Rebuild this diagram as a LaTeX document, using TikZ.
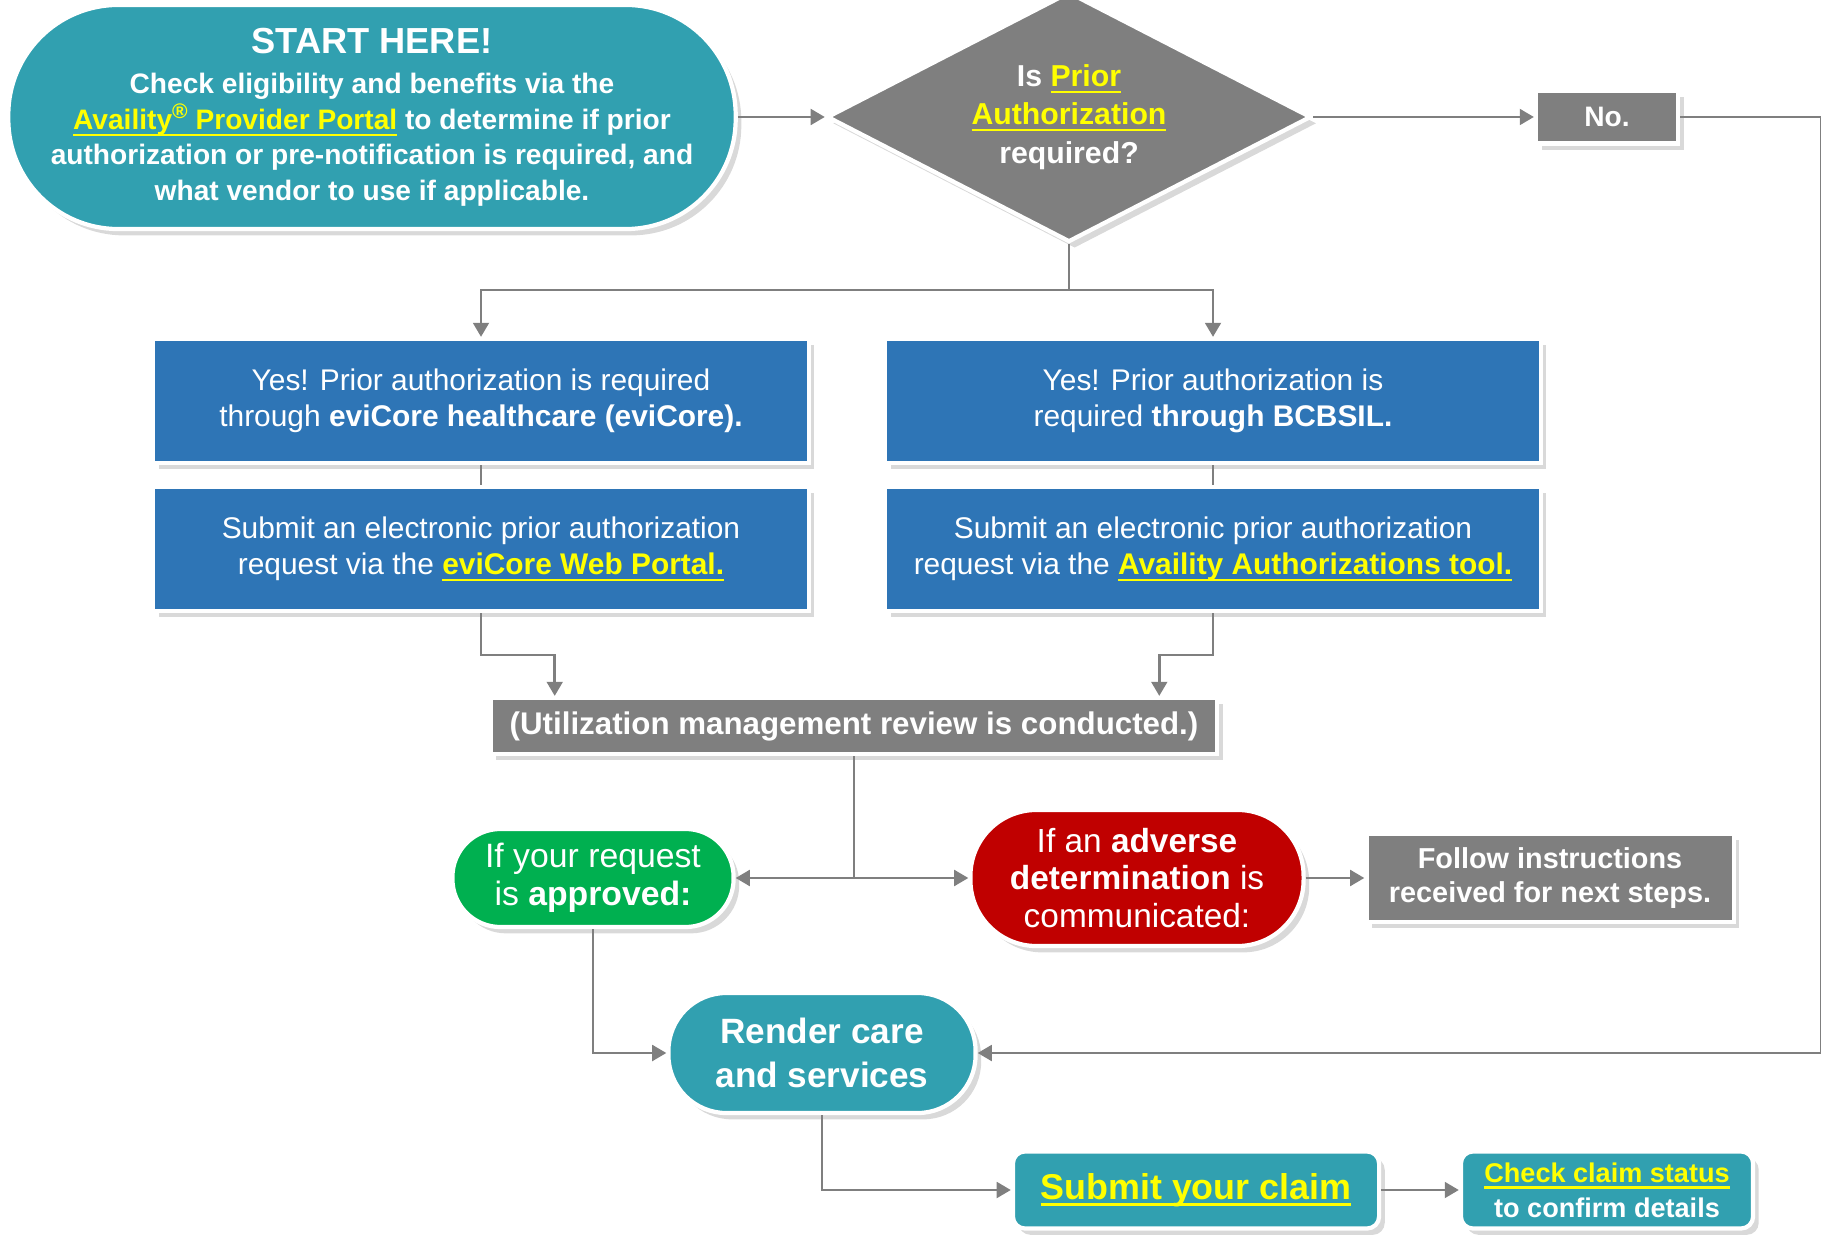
\documentclass[tikz,border=0pt]{standalone}
\usepackage{fontspec}
\setmainfont{Liberation Sans}
\usepackage{tikz}
\usetikzlibrary{positioning,shapes.geometric,arrows.meta,shadows}

\definecolor{tealfill}{HTML}{31A0B0}
\definecolor{bluefill}{HTML}{2E75B6}
\definecolor{grayfill}{HTML}{7F7F7F}
\definecolor{greenfill}{HTML}{00B050}
\definecolor{redfill}{HTML}{C00000}
\definecolor{linkyellow}{HTML}{FFFF00}
\definecolor{linegray}{HTML}{7F7F7F}

\newsavebox{\lnkbox}
\newcommand{\lnk}[1]{{\color{linkyellow}\sbox{\lnkbox}{#1}\rlap{\rule[-1.8pt]{\wd\lnkbox}{0.6pt}}\usebox{\lnkbox}}}

\tikzset{
  softshadow/.style={drop shadow={shadow xshift=1.6pt, shadow yshift=-1.8pt, opacity=0.3}},
  box/.style={rectangle, draw=white, line width=1.2pt, text=white, inner sep=0pt, align=center, softshadow},
  bluebox/.style={box, fill=bluefill, minimum width=6.55cm, minimum height=1.24cm,
    font=\fontsize{8.5}{10.3}\selectfont},
  graybox/.style={box, fill=grayfill, font=\bfseries\fontsize{8.9}{10.5}\selectfont},
  conn/.style={draw=linegray, line width=0.7pt},
  connarr/.style={conn, -{Triangle[width=4.5pt,length=4pt]}},
}

\begin{document}
\begin{tikzpicture}[x=0.01cm, y=-0.01cm]
	\useasboundingbox (0,0) rectangle (1821,1237);
	\clip (0,0) rectangle (1821,1237);

	% top row
	\node[box, fill=tealfill, minimum width=7.27cm, minimum height=2.24cm, rounded corners=1.1cm,
		font=\bfseries\fontsize{8}{10.1}\selectfont] (start) at (372,117)
		{{\fontsize{10.3}{12}\selectfont START HERE!}\\[1.5pt]
		 Check eligibility and benefits via the\\
		 \lnk{Availity{\fontsize{6}{6}\selectfont\raisebox{3pt}{\textregistered}} Provider Portal} to determine if prior\\
		 authorization or pre-notification is required, and\\
		 what vendor to use if applicable.};
	\node[diamond, aspect=1.93, draw=white, line width=1.2pt, fill=grayfill, text=white, inner sep=0pt,
		minimum width=4.84cm, minimum height=2.5cm, align=center,
		font=\bfseries\fontsize{8.6}{10.9}\selectfont, softshadow] (decide) at (1069,117)
		{Is \lnk{Prior}\\\lnk{Authorization}\\required?};
	\node[graybox, minimum width=1.42cm, minimum height=0.53cm, font=\bfseries\fontsize{8}{10}\selectfont] (no) at (1607,117) {No.};

	% two vendors
	\node[bluebox] (yesevi) at (481,401) {Yes! Prior authorization is required\\through \textbf{eviCore healthcare (eviCore).}};
	\node[bluebox] (subevi) at (481,549) {Submit an electronic prior authorization\\request via the \lnk{\textbf{eviCore Web Portal.}}};
	\node[bluebox] (yesbcbs) at (1213,401) {Yes! Prior authorization is\\required \textbf{through BCBSIL.}};
	\node[bluebox] (subbcbs) at (1213,549) {Submit an electronic prior authorization\\request via the \lnk{\textbf{Availity Authorizations tool.}}};

	% review and outcomes
	\node[graybox, minimum width=7.26cm, minimum height=0.56cm] (review) at (854,726) {(Utilization management review is conducted.)};
	\node[box, fill=greenfill, minimum width=2.81cm, minimum height=0.98cm, rounded corners=0.48cm,
		font=\fontsize{9.6}{10.9}\selectfont] (approved) at (593,878) {If your request\\is \textbf{approved:}};
	\node[box, fill=redfill, minimum width=3.33cm, minimum height=1.36cm, rounded corners=0.66cm,
		font=\fontsize{9.5}{10.7}\selectfont] (adverse) at (1137,878) {If an \textbf{adverse}\\\textbf{determination} is\\communicated:};
	\node[graybox, minimum width=3.67cm, minimum height=0.88cm, font=\bfseries\fontsize{8.2}{9.9}\selectfont] (follow) at (1550,878)
		{Follow instructions\\received for next steps.};

	% after approval
	\node[box, fill=tealfill, minimum width=3.07cm, minimum height=1.2cm, rounded corners=0.58cm,
		font=\bfseries\fontsize{10}{12.6}\selectfont] (render) at (822,1053) {Render care\\and services};
	\node[box, fill=tealfill, minimum width=3.66cm, minimum height=0.77cm, rounded corners=0.12cm,
		font=\bfseries\fontsize{10.2}{12}\selectfont] (claim) at (1196,1190) {\lnk{Submit your claim}};
	\node[box, fill=tealfill, minimum width=2.92cm, minimum height=0.77cm, rounded corners=0.12cm,
		font=\bfseries\fontsize{7.7}{9.9}\selectfont] (status) at (1607,1190) {\lnk{Check claim status}\\to confirm details};

	% connectors
	\draw[connarr] (start.east) -- (decide.west);
	\draw[connarr] (decide.east) -- (no.west);
	\draw[connarr] (no.east) -- ++(141,0) |- (render.east);

	\draw[conn] (decide.south) -- ++(0,46) coordinate (split);
	\draw[connarr] (split) -| (yesevi.north);
	\draw[connarr] (split) -| (yesbcbs.north);

	\draw[conn, line width=0.4pt] (yesevi) -- (subevi);
	\draw[conn, line width=0.4pt] (yesbcbs) -- (subbcbs);

	\draw[connarr] (subevi.south) -- ++(0,42) -| ([xshift=0.66cm]review.north west);
	\draw[connarr] (subbcbs.south) -- ++(0,42) -| ([xshift=-0.6cm]review.north east);

	\draw[connarr] (review.south) |- (approved.east);
	\draw[connarr] (review.south) |- (adverse.west);
	\draw[connarr] (adverse) -- (follow);

	\draw[connarr] (approved.south) |- (render.west);
	\draw[connarr] (render.south) |- (claim.west);
	\draw[connarr] (claim) -- (status);
\end{tikzpicture}
\end{document}
